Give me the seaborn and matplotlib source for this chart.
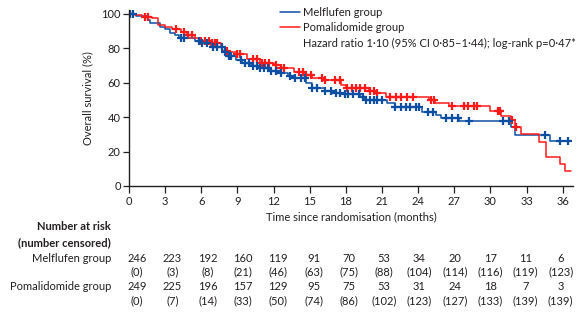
import numpy as np
import pandas as pd
import matplotlib
matplotlib.use("Agg")
import matplotlib.pyplot as plt
import matplotlib.transforms as mtransforms
from matplotlib.lines import Line2D
import seaborn as sns

# ---------------- data ----------------
mel_t = [0, 0.55, 1.6, 1.75, 2.6, 3.0, 3.4, 3.8, 4.15, 5.5, 6.1, 6.8, 7.75, 8.3, 8.85,
         9.4, 10.1, 10.8, 11.6, 12.45, 13.2, 13.8, 14.7, 15.2, 16.3, 17.2, 17.6, 19.2,
         19.6, 21.4, 22.1, 24.35, 25.5, 25.9, 27.4, 31.7, 32.0, 34.9, 36.7]
mel_s = [100, 99, 96.5, 94.6, 92.5, 91, 89, 87.5, 85.9, 84.5, 83.3, 81, 78, 75.5, 73.3,
         71.3, 70, 68.4, 67, 65.5, 64, 62.6, 59.7, 56.8, 55.4, 53.9, 53.3, 51.5,
         50, 48.1, 46.1, 43.2, 41.3, 39.3, 37.5, 34.5, 29.7, 26.2, 26.2]

pom_t = [0, 0.5, 1.1, 1.9, 2.4, 3.0, 3.6, 4.3, 4.85, 5.5, 5.95, 6.8, 7.6, 8.0, 8.4, 9.0,
         9.8, 10.9, 12.0, 12.6, 13.7, 14.5, 15.2, 16.3, 17.6, 18.0, 19.9, 20.5, 21.3,
         24.9, 25.4, 26.6, 30.0, 30.9, 31.7, 32.0, 32.5, 34.0, 34.6, 35.8, 36.2, 36.7]
pom_s = [100, 99.5, 98.5, 97.5, 93.6, 92.5, 91, 89.3, 87.8, 85.9, 84.5, 83, 81, 78.5, 78,
         76.5, 73.6, 71.5, 70.3, 68.4, 66, 64.5, 62.6, 61.6, 58.7, 56.8, 55.2, 53.9, 52.0,
         50.2, 48.4, 46.5, 43.6, 40.7, 38.3, 34.5, 30.2, 25.4, 16.7, 12.8, 8.9, 8.9]

mel_cens = [0.1, 0.3, 4.3, 4.6, 5.8, 6.1, 6.5, 7.0, 7.3, 7.7, 8.0, 8.3, 8.5, 9.3, 9.6,
            10.0, 10.3, 10.6, 10.9, 11.2, 11.5, 11.8, 12.2, 12.6, 13.4, 13.8, 14.3, 14.6,
            15.2, 15.6, 16.3, 16.8, 17.2, 17.5, 17.9, 18.2, 18.6, 19.1, 19.4, 19.7, 20.0,
            20.3, 20.6, 21.0, 22.1, 22.6, 23.0, 23.3, 23.8, 24.1, 24.8, 25.2, 26.3, 26.8,
            27.3, 28.2, 31.0, 31.5, 34.5, 35.8, 36.4]
pom_cens = [0.1, 1.3, 1.6, 3.9, 4.6, 4.9, 5.2, 6.0, 6.3, 6.6, 6.9, 7.1, 7.3, 8.1, 9.0,
            9.2, 10.3, 10.6, 11.0, 11.3, 11.6, 12.2, 12.6, 12.9, 14.1, 14.4, 14.7, 15.1,
            16.0, 16.3, 17.1, 17.5, 18.1, 18.5, 18.8, 19.2, 19.6, 20.0, 20.3, 20.6, 21.7,
            22.2, 22.6, 23.1, 23.6, 25.1, 25.3, 26.8, 27.8, 28.1, 28.6, 28.9, 30.6, 30.8,
            31.8, 32.1]

risk_times = [0, 3, 6, 9, 12, 15, 18, 21, 24, 27, 30, 33, 36]
mel_risk = [246, 223, 192, 160, 119, 91, 70, 53, 34, 20, 17, 11, 6]
mel_cen_n = [0, 3, 8, 21, 46, 63, 75, 88, 104, 114, 116, 119, 123]
pom_risk = [249, 225, 196, 157, 129, 95, 75, 53, 31, 24, 18, 7, 3]
pom_cen_n = [0, 7, 14, 33, 50, 74, 86, 102, 123, 127, 133, 139, 139]

groups = ["Melflufen group", "Pomalidomide group"]
colors = {"Melflufen group": "#0b4ea2", "Pomalidomide group": "#ff1a1a"}
# ---------------------------------------

sns.set_style("ticks")
plt.rcParams['font.family'] = ['Lato', 'DejaVu Sans']
txt = "#231f20"
plt.rcParams['text.color'] = txt
plt.rcParams['axes.labelcolor'] = txt
plt.rcParams['xtick.color'] = txt
plt.rcParams['ytick.color'] = txt

W, H = 583, 316
fig = plt.figure(figsize=(W / 100, H / 100), dpi=100)
ax = fig.add_axes([129 / W, 1 - 186 / H, (573 - 129) / W, (186 - 10) / H])

df = pd.concat([
    pd.DataFrame({"t": mel_t, "s": mel_s, "group": groups[0]}),
    pd.DataFrame({"t": pom_t, "s": pom_s, "group": groups[1]}),
])
sns.lineplot(data=df, x="t", y="s", hue="group", palette=colors, estimator=None,
             drawstyle="steps-post", linewidth=1.1, ax=ax, legend=False, sort=False)


def step_val(times, surv, c):
    idx = np.searchsorted(np.asarray(times), np.asarray(c), side="right") - 1
    return np.asarray(surv)[idx]


for g, tt, ss, cc in [(groups[1], pom_t, pom_s, pom_cens), (groups[0], mel_t, mel_s, mel_cens)]:
    ax.plot(cc, step_val(tt, ss, cc), linestyle="none", marker="+", ms=6, mew=1.6,
            color=colors[g])

ax.set_xlim(0, 36.85)
ax.set_ylim(0, 102.3)
ax.set_xticks(risk_times)
ax.set_yticks([0, 20, 40, 60, 80, 100])
ax.tick_params(axis="both", labelsize=8, width=0.9, length=4, pad=2)
ax.tick_params(axis="x", length=5)
for sp in ["top", "right"]:
    ax.spines[sp].set_visible(False)
for sp in ["left", "bottom"]:
    ax.spines[sp].set_linewidth(1.0)
    ax.spines[sp].set_color(txt)
ax.set_xlabel("Time since randomisation (months)", fontsize=8, labelpad=3)
ax.set_ylabel("Overall survival (%)", fontsize=8, labelpad=6)

# legend
handles = [Line2D([], [], color=colors[g], lw=1.1) for g in groups]
leg = ax.legend(handles, groups, loc="upper left", bbox_to_anchor=(0.330, 1.045),
                frameon=False, fontsize=8, handlelength=1.8, handletextpad=0.3,
                labelspacing=0.4, borderaxespad=0)
ax.text(303 / W, 1 - 43 / H, "Hazard ratio 1·10 (95% CI 0·85–1·44); log-rank p=0·47*",
        transform=fig.transFigure, ha="left", va="center", fontsize=8)

# number at risk table
def fy(py):
    return 1 - py / H

fig.text(111 / W, fy(227), "Number at risk", ha="right", va="center", fontsize=8,
         fontweight="bold")
fig.text(111 / W, fy(242.5), "(number censored)", ha="right", va="center", fontsize=8,
         fontweight="bold")
fig.text(111 / W, fy(258), groups[0], ha="right", va="center", fontsize=8)
fig.text(111 / W, fy(286), groups[1], ha="right", va="center", fontsize=8)

trans = mtransforms.blended_transform_factory(ax.transData, fig.transFigure)
for i, t in enumerate(risk_times):
    xx = 0.66 + 0.977 * t
    ax.text(xx, fy(258), str(mel_risk[i]), transform=trans, ha="center", va="center",
            fontsize=8, clip_on=False)
    ax.text(xx, fy(272), f"({mel_cen_n[i]})", transform=trans, ha="center", va="center",
            fontsize=8, clip_on=False)
    ax.text(xx, fy(286), str(pom_risk[i]), transform=trans, ha="center", va="center",
            fontsize=8, clip_on=False)
    ax.text(xx, fy(300.5), f"({pom_cen_n[i]})", transform=trans, ha="center", va="center",
            fontsize=8, clip_on=False)

fig.savefig("out.png", dpi=100)
